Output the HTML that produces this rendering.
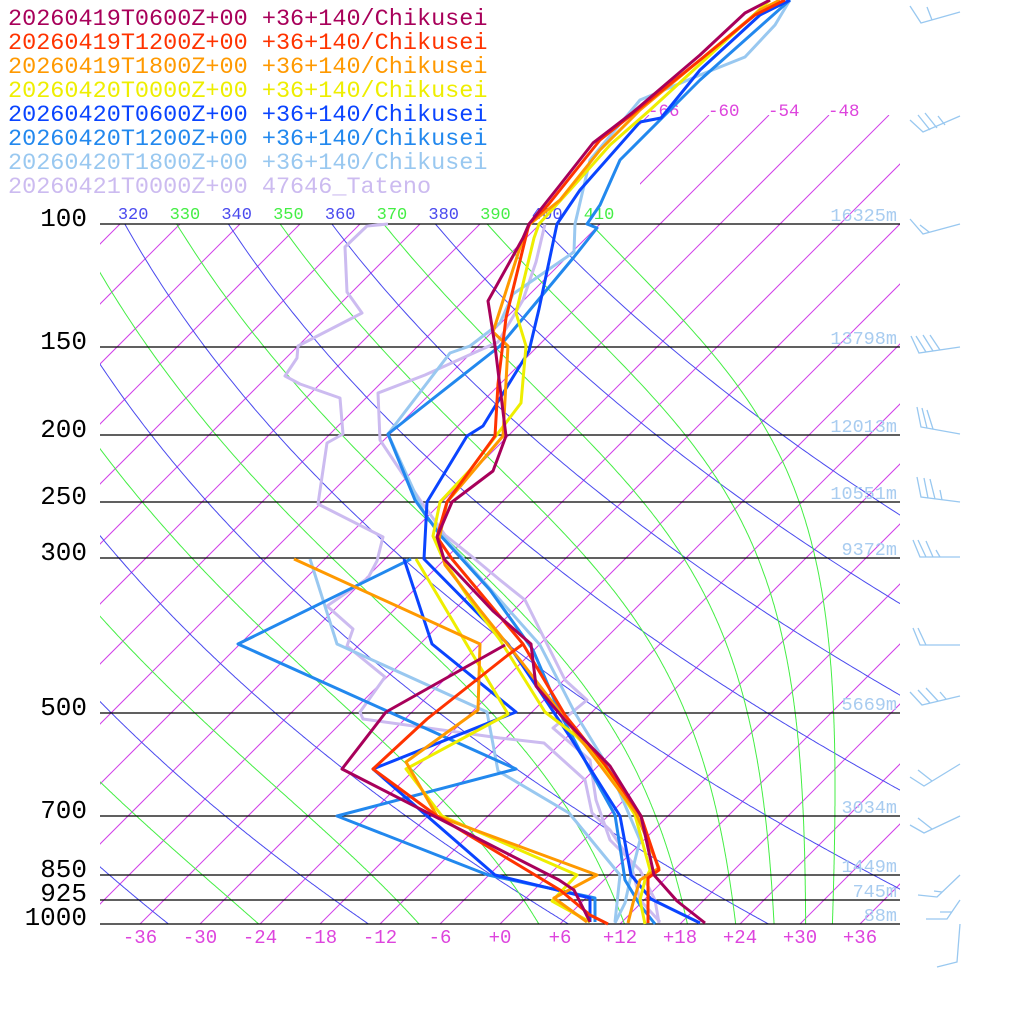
<!DOCTYPE html>
<html><head><meta charset="utf-8"><style>
html,body{margin:0;padding:0;background:#fff;}
svg{display:block;font-family:"Liberation Mono","DejaVu Sans Mono",monospace;}
</style></head><body>
<svg id="s" width="1024" height="1024" viewBox="0 0 1024 1024" xmlns="http://www.w3.org/2000/svg">
<defs>
<clipPath id="plot"><rect x="100" y="224" width="800" height="700"/></clipPath>
<clipPath id="iso"><rect x="100" y="224" width="800" height="700"/><rect x="640" y="115" width="260" height="110"/></clipPath>
<clipPath id="lab"><rect x="97" y="190" width="820" height="40"/></clipPath>
</defs>
<g id="bg"></g>
<g id="hl" stroke="#000" stroke-width="1.2">
<line x1="100" y1="224" x2="900" y2="224"/><line x1="100" y1="347" x2="900" y2="347"/>
<line x1="100" y1="435" x2="900" y2="435"/><line x1="100" y1="502" x2="900" y2="502"/>
<line x1="100" y1="558" x2="900" y2="558"/><line x1="100" y1="713" x2="900" y2="713"/>
<line x1="100" y1="816" x2="900" y2="816"/><line x1="100" y1="875" x2="900" y2="875"/>
<line x1="100" y1="900" x2="900" y2="900"/><line x1="100" y1="924" x2="900" y2="924"/>
</g>
<g font-size="26" fill="#000" text-anchor="end">
<text x="87" y="226">100</text><text x="87" y="349">150</text><text x="87" y="437">200</text>
<text x="87" y="504">250</text><text x="87" y="560">300</text><text x="87" y="715">500</text>
<text x="87" y="818">700</text><text x="87" y="877">850</text><text x="87" y="901">925</text>
<text x="87" y="925">1000</text>
</g>
<g font-size="18.5" fill="#a8ccf0" text-anchor="end">
<text x="897" y="221">16325m</text><text x="897" y="344">13798m</text><text x="897" y="432">12013m</text>
<text x="897" y="499">10551m</text><text x="897" y="555">9372m</text><text x="897" y="710">5669m</text>
<text x="897" y="813">3034m</text><text x="897" y="872">1449m</text><text x="897" y="897">745m</text>
<text x="897" y="921">88m</text>
</g>
<g font-size="17.5" fill="#dd44dd">
<text x="648" y="116">-66</text><text x="708" y="116">-60</text><text x="768" y="116">-54</text><text x="828" y="116">-48</text>
</g>
<g font-size="19" fill="#dd44dd" text-anchor="middle" id="bl"></g>
<g fill="none" stroke-width="3" stroke-linejoin="round">
<polyline stroke="#ccbbf0" points="545,224 536,262 523,300 498,342 425,375 378,393 380,440 420,500 445,535 470,555 500,580 525,600 545,640 565,680 587,700 553,728 590,760 596,800 610,840 640,870 655,900 659,923"/>
<polyline stroke="#ccbbf0" points="388,224 367,226 345,247 347,292 362,313 298,346 297,358 285,376 300,384 340,398 343,434 327,443 318,504 383,537 377,561 368,578 327,606 353,629 347,646 385,677 360,712 363,719 500,738 544,743 585,780 592,813 610,830 630,860 640,900 660,922"/>
<polyline stroke="#99c8f0" points="615,923 625,903 630,880 640,840 610,770 575,713 540,645 500,600 460,555 425,515 388,434 450,353 470,346 500,323 513,294 574,252 575,224 590,160 640,100 700,75 745,57 775,25 790,0"/>
<polyline stroke="#99c8f0" points="310,559 337,644 487,712 498,771 569,813 620,875 615,922"/>
<polyline stroke="#2288ee" points="655,924 640,905 625,880 622,860 615,815 590,770 560,713 533,650 490,590 440,535 415,500 388,434 500,346 574,257 597,228 587,224 600,205 620,160 660,120 700,80 745,40 790,0"/>
<polyline stroke="#2288ee" points="411,559 238,644 516,769 337,816 488,875 595,898 595,922"/>
<polyline stroke="#0a44ff" points="700,923 651,899 631,875 620,816 574,743 539,690 508,644 424,559 427,502 467,436 483,426 529,351 539,309 557,224 580,190 640,122 661,118 700,70 760,15 790,0"/>
<polyline stroke="#0a44ff" points="404,559 432,644 516,712 373,769 495,875 590,898 590,922"/>
<polyline stroke="#eeee00" points="645,924 640,900 645,880 650,870 635,815 600,760 575,735 545,712 525,680 500,640 470,600 443,559 433,536 440,502 470,470 521,403 526,346 516,313 534,238 539,224 570,190 610,145 650,110 710,55 770,0"/>
<polyline stroke="#eeee00" points="416,559 508,714 406,769 442,816 577,875 552,901 590,922"/>
<polyline stroke="#ff9900" points="628,923 633,903 640,880 659,868 636,813 600,765 560,712 520,660 480,610 445,565 439,540 447,502 503,436 508,346 493,332 523,238 530,224 560,200 600,150 640,110 700,60 760,10 780,0"/>
<polyline stroke="#ff9900" points="294,559 480,644 478,710 406,762 437,816 597,875 554,898 587,922"/>
<polyline stroke="#ff3300" points="648,923 648,878 659,870 641,816 605,765 565,715 523,644 452,559 437,537 447,502 495,436 498,384 506,318 529,224 548,205 600,140 640,108 700,60 755,15 785,0"/>
<polyline stroke="#ff3300" points="523,644 508,655 427,719 373,769 437,816 560,890 590,915 608,924"/>
<polyline stroke="#a8005a" points="705,923 677,901 654,875 641,816 610,766 564,719 536,686 531,644 493,611 444,559 437,537 452,502 493,471 506,436 495,346 488,301 523,238 529,224 560,185 593,143 632,113 700,55 745,13 770,0"/>
<polyline stroke="#a8005a" points="505,645 386,712 342,769 559,880 574,890 590,922"/>
</g>
<g fill="none" stroke="#99c8f0" stroke-width="1.3">
<path d="M960,12 L921,23 L910,6 M932,20 L927,7"/>
<path d="M960,116 L923,132 L910,120 M930,130 L918,115 M937,128 L925,113 M945,125 L938,116"/>
<path d="M960,224 L923,234 L910,219 M929,232 L920,225"/>
<path d="M960,347 L919,353 L911,336 M926,352 L916,336 M933,351 L923,335 M940,350 L930,335"/>
<path d="M960,434 L921,427 L917,407 M927,428 L922,408 M933,429 L927,410"/>
<path d="M960,502 L921,497 L917,477 M928,498 L924,478 M935,499 L930,479 M942,500 L940,490"/>
<path d="M960,557 L920,557 L913,540 M926,557 L918,540 M933,557 L926,541 M940,557 L936,550"/>
<path d="M960,645 L920,645 L913,628 M926,645 L918,628"/>
<path d="M960,696 L922,705 L910,692 M930,703 L918,690 M938,701 L926,688 M946,699 L940,692"/>
<path d="M960,764 L924,786 L910,777 M932,781 L918,770"/>
<path d="M960,816 L924,833 L910,825 M932,829 L918,818"/>
<path d="M960,875 L937,897 L918,895 M942,892 L934,891"/>
<path d="M960,900 L947,919 L926,919 M952,912 L940,912"/>
<path d="M960,924 L957,962 L937,967"/>
</g>
<g font-size="23.5">
<text x="8" y="25" fill="#a8005a">20260419T0600Z+00 +36+140/Chikusei</text>
<text x="8" y="49" fill="#ff3300">20260419T1200Z+00 +36+140/Chikusei</text>
<text x="8" y="73" fill="#ff9900">20260419T1800Z+00 +36+140/Chikusei</text>
<text x="8" y="97" fill="#eeee00">20260420T0000Z+00 +36+140/Chikusei</text>
<text x="8" y="121" fill="#0a44ff">20260420T0600Z+00 +36+140/Chikusei</text>
<text x="8" y="145" fill="#2288ee">20260420T1200Z+00 +36+140/Chikusei</text>
<text x="8" y="169" fill="#99c8f0">20260420T1800Z+00 +36+140/Chikusei</text>
<text x="8" y="193" fill="#ccbbf0">20260421T0000Z+00 47646_Tateno</text>
</g>
</svg>
<script>
(function(){
var NS="http://www.w3.org/2000/svg",bg=document.getElementById("bg");
function el(n,a,p){var e=document.createElementNS(NS,n);for(var k in a)e.setAttribute(k,a[k]);(p||bg).appendChild(e);return e;}
function py(p){return 924-700*Math.log10(1000/p);}
function tx(T,y){return 500+10*T+(924-y);}
var gi=el("g",{"clip-path":"url(#iso)",stroke:"#d040e8","stroke-width":"1"});
for(var T=-150;T<=60;T+=6){el("line",{x1:tx(T,924),y1:924,x2:tx(T,115),y2:115},gi);}
var ga=el("g",{"clip-path":"url(#plot)",fill:"none","stroke-width":"1"});
var gl=el("g",{"clip-path":"url(#lab)","font-size":"17"});
for(var th=200;th<=410;th+=10){
 var dry=(th/10)%2==0;var col=dry?"#4a4aee":"#44ee44";
 var p=100,T=th*Math.pow(0.1,0.286);var pts=[];
 var x0=tx(T-273.15,py(100));
 if(th>=300)el("text",{x:x0-7,y:219,fill:col},gl).textContent=String(th);
 while(p<=1010){var y=py(p);
  if(dry)T=th*Math.pow(p/1000,0.286);
  pts.push(tx(T-273.15,y).toFixed(1)+","+y.toFixed(1));
  if(!dry){var Tc=T-273.15,es=6.112*Math.exp(17.67*Tc/(Tc+243.5)),rs=0.622*es/(p-es);
  var d=(287*T+2.5e6*rs)/(1004+2.5e6*2.5e6*rs*0.622/(287*T*T))/p;
  T+=d*2;}
  p+=2;}
 el("polyline",{points:pts.join(" "),stroke:col},ga);}
var bl=document.getElementById("bl");
for(var t=-36;t<=36;t+=6){var e=document.createElementNS(NS,"text");e.setAttribute("x",500+10*t);e.setAttribute("y",943);
 e.textContent=(t>=0?"+":"")+t;bl.appendChild(e);}
})();
</script>
</body></html>
